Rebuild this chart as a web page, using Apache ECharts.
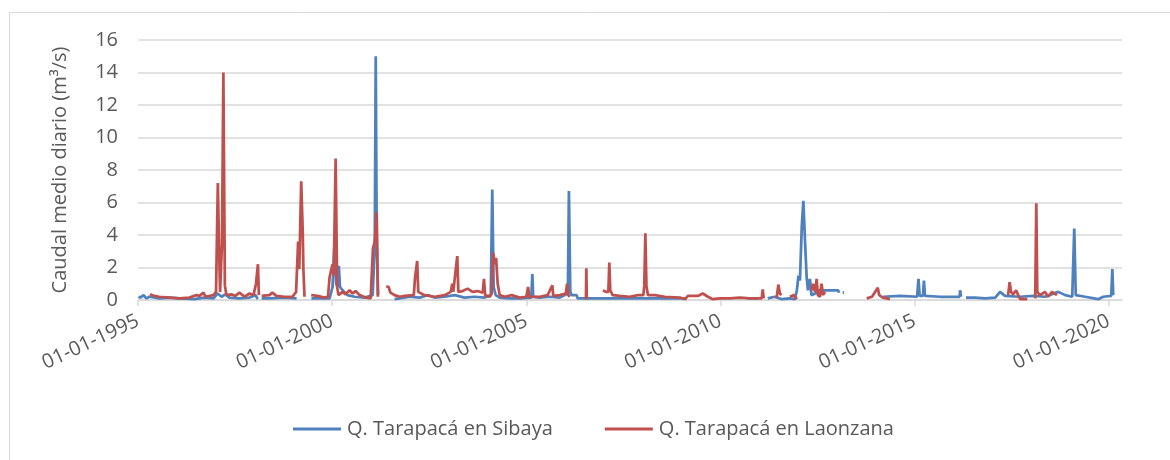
<!DOCTYPE html>
<html>
<head>
<meta charset="utf-8">
<script src="https://cdn.jsdelivr.net/npm/echarts@6.0.0/dist/echarts.min.js"></script>
<style>
html,body{margin:0;padding:0;background:#ffffff;}
#chart{width:1170px;height:460px;}
</style>
</head>
<body>
<div id="chart"></div>
<script>
const seriesNames = ['Q. Tarapacá en Sibaya', 'Q. Tarapacá en Laonzana'];
const yAxisTitle = 'Caudal medio diario (m³/s)';
const xTickDates = ['1995-01-01','2000-01-01','2005-01-01','2010-01-01','2015-01-01','2020-01-01'];
const xTickLabels = ['01-01-1995','01-01-2000','01-01-2005','01-01-2010','01-01-2015','01-01-2020'];
const xRange = ['1995-01-01', '2020-05-04'];
const yRange = [0, 16, 2];

// Q. Tarapacá en Sibaya (null = no data)
const sibayaDates = ['1995-01-05','1995-01-24','1995-02-22','1995-03-20','1995-04-18','1995-07-20','1995-10-23','1996-01-26','1996-06-15','1996-09-17','1996-12-11','1997-01-18','1997-02-25','1997-04-02','1997-05-10','1997-08-12','1997-11-15','1998-01-11','1998-01-30','1998-02-15','1998-03-09','1998-05-21','1998-10-10','1999-02-01','1999-04-01','1999-06-20','1999-09-23','1999-12-08','2000-01-05','2000-01-24','2000-02-08','2000-02-22','2000-03-04','2000-03-15','2000-04-08','2000-05-25','2000-07-30','2000-11-02','2001-01-16','2001-02-05','2001-02-14','2001-02-23','2001-03-08','2001-05-01','2001-08-10','2001-09-27','2001-12-30','2002-04-02','2002-06-17','2002-08-22','2002-11-25','2003-02-27','2003-05-30','2003-09-02','2003-12-06','2004-02-01','2004-02-15','2004-02-28','2004-03-18','2004-04-25','2004-07-28','2004-10-30','2005-02-16','2005-02-26','2005-03-06','2005-05-06','2005-08-09','2005-11-11','2006-01-26','2006-02-05','2006-02-18','2006-03-03','2006-04-19','2006-04-28','2006-11-22','2007-09-01','2008-06-09','2009-02-20','2009-06-01','2010-09-15','2010-12-18','2011-01-15','2011-03-21','2011-05-26','2011-08-01','2011-10-15','2011-12-01','2011-12-20','2012-01-04','2012-01-18','2012-02-04','2012-02-19','2012-03-05','2012-03-21','2012-04-02','2012-04-21','2012-05-05','2012-06-08','2012-07-24','2012-10-27','2013-01-11','2013-01-20','2013-02-05','2013-02-23','2013-03-07','2013-06-01','2014-03-11','2014-08-16','2015-01-24','2015-02-06','2015-02-17','2015-03-20','2015-03-29','2015-04-08','2015-08-27','2016-02-28','2016-03-03','2016-03-12','2016-04-01','2016-04-28','2016-07-22','2016-10-25','2017-01-28','2017-03-14','2017-04-30','2017-09-19','2018-01-20','2018-05-11','2018-09-12','2018-11-17','2019-01-22','2019-02-10','2019-02-24','2019-05-23','2019-09-23','2019-11-10','2020-01-24','2020-02-03','2020-02-12'];
const sibayaFlow = [0.2,0.15,0.3,0.1,0.2,0.1,0.15,0.1,0.05,0.15,0.1,0.4,0.2,0.35,0.15,0.1,0.15,0.3,0.05,null,0.1,0.1,0.15,0.1,null,0.1,0.1,0.1,0.8,3.7,1.0,0.8,2.1,0.8,0.6,0.3,0.2,0.15,0.3,3.3,15.0,4.0,0.3,null,0.05,0.1,0.2,0.15,0.3,0.15,0.2,0.3,0.15,0.2,0.15,0.3,6.8,0.8,0.3,0.15,0.1,0.1,0.15,1.6,0.2,0.15,0.2,0.15,0.4,6.7,0.5,0.3,0.3,0.1,0.1,0.1,0.1,0.1,null,0.1,0.1,null,0.1,0.2,0.05,0.1,0.05,0.6,1.5,1.2,4.5,6.1,3.7,1.4,0.6,1.3,0.3,0.4,0.6,0.6,0.6,0.45,null,0.45,0.45,null,0.2,0.25,0.2,1.3,0.25,0.25,1.2,0.25,0.2,0.2,0.6,0.2,null,0.15,0.15,0.1,0.15,0.5,0.25,0.2,0.25,0.2,0.5,0.3,0.2,4.4,0.3,0.2,0.05,0.2,0.25,1.9,0.3];

// Q. Tarapacá en Laonzana (null = no data)
const laonzanaDates = ['1995-04-24','1995-06-04','1995-07-20','1995-10-23','1996-01-26','1996-04-28','1996-07-03','1996-08-01','1996-09-08','1996-09-27','1996-12-11','1997-01-04','1997-01-21','1997-02-02','1997-02-11','1997-03-01','1997-03-14','1997-03-28','1997-04-12','1997-05-29','1997-07-05','1997-08-12','1997-09-29','1997-11-15','1997-12-22','1998-01-15','1998-02-02','1998-02-11','1998-02-25','1998-03-09','1998-05-21','1998-06-18','1998-07-26','1998-10-10','1998-12-24','1999-01-27','1999-02-15','1999-02-26','1999-03-16','1999-03-30','1999-04-06','1999-04-16','1999-05-15','1999-06-18','1999-08-16','1999-10-21','1999-11-23','1999-12-08','1999-12-21','2000-01-05','2000-01-16','2000-02-03','2000-02-17','2000-03-01','2000-04-08','2000-05-06','2000-06-13','2000-07-11','2000-08-09','2000-09-16','2000-11-11','2000-12-28','2001-01-19','2001-02-05','2001-02-23','2001-03-06','2001-04-15','2001-05-24','2001-06-15','2001-07-03','2001-08-10','2001-09-27','2001-11-13','2002-02-07','2002-02-19','2002-03-11','2002-03-21','2002-05-19','2002-08-22','2002-11-25','2003-01-20','2003-02-04','2003-02-13','2003-03-23','2003-04-02','2003-05-11','2003-06-28','2003-08-14','2003-10-01','2003-11-17','2003-11-29','2003-12-10','2004-01-22','2004-02-10','2004-02-24','2004-03-08','2004-03-22','2004-04-06','2004-04-25','2004-06-11','2004-08-16','2004-10-30','2005-01-01','2005-01-17','2005-01-28','2005-05-06','2005-07-20','2005-09-02','2005-09-11','2005-11-11','2006-01-07','2006-01-19','2006-01-30','2006-02-14','2006-04-15','2006-07-15','2006-07-19','2006-07-23','2006-10-01','2006-12-23','2007-01-18','2007-02-11','2007-02-20','2007-03-01','2007-03-23','2007-05-29','2007-09-01','2007-11-15','2008-01-06','2008-01-15','2008-01-25','2008-02-04','2008-02-18','2008-04-23','2008-07-26','2008-12-15','2009-02-01','2009-02-28','2009-06-02','2009-07-18','2009-09-04','2009-10-21','2009-12-26','2010-03-29','2010-07-01','2010-10-04','2011-01-23','2011-02-02','2011-02-11','2011-04-01','2011-06-12','2011-06-29','2011-07-13','2011-07-29','2011-09-01','2011-10-15','2011-11-22','2011-12-20','2012-03-01','2012-05-07','2012-05-19','2012-06-08','2012-06-23','2012-07-05','2012-07-24','2012-08-08','2012-08-22','2012-09-10','2013-03-01','2013-10-07','2013-11-26','2014-01-19','2014-02-01','2014-03-08','2014-05-13','2015-06-01','2017-05-29','2017-06-12','2017-06-26','2017-07-14','2017-08-12','2017-09-01','2017-09-19','2017-11-25','2018-01-01','2018-02-08','2018-02-18','2018-02-27','2018-03-25','2018-05-11','2018-06-09','2018-07-16','2018-08-31'];
const laonzanaFlow = [0.35,0.25,0.2,0.15,0.1,0.15,0.3,0.25,0.45,0.2,0.3,0.5,7.2,3.0,0.5,3.5,14.0,0.9,0.3,0.35,0.25,0.45,0.2,0.4,0.3,1.0,2.2,0.3,null,0.25,0.3,0.45,0.25,0.2,0.2,0.5,3.6,1.9,7.3,4.3,1.8,0.2,null,0.3,0.25,0.15,0.2,1.4,1.8,2.2,1.5,8.7,0.8,0.3,0.5,0.35,0.6,0.4,0.55,0.3,0.15,0.1,3.2,3.6,5.4,0.2,null,0.85,0.8,0.45,0.3,0.2,0.25,0.3,1.4,2.4,0.5,0.3,0.2,0.3,0.5,1.0,0.5,2.7,0.5,0.55,0.7,0.5,0.55,0.45,1.3,0.3,0.2,0.4,2.9,2.2,2.6,1.0,0.3,0.2,0.3,0.15,0.2,0.8,0.2,0.2,0.3,0.9,0.25,0.3,0.4,1.0,0.3,0.2,null,0.05,1.95,0.05,null,0.6,0.5,0.5,2.3,0.6,0.3,0.25,0.2,0.3,0.3,0.9,4.1,0.9,0.3,0.3,0.2,0.15,0.05,0.25,0.25,0.4,0.2,0.05,0.1,0.1,0.15,0.1,0.1,0.65,0.1,null,0.1,0.95,0.4,0.3,null,0.2,0.3,0.05,null,0.6,1.0,0.5,1.3,0.3,0.2,1.0,0.3,0.5,null,0.1,0.2,0.75,0.3,0.15,0.05,null,0.3,1.1,0.5,0.35,0.6,0.3,0.05,0.05,null,0.1,5.95,0.5,0.3,0.5,0.2,0.5,0.3];

const colors = ['#4F81BD', '#C0504D'];
const textColor = '#595959';
const gridColor = '#D9D9D9';
const fontFamily = '"Open Sans", "Noto Sans", sans-serif';

function toTs(d) { const p = d.split('-'); return Date.UTC(+p[0], +p[1] - 1, +p[2]); }
const tickTs = xTickDates.map(toTs);
const sibayaData = sibayaDates.map((d, i) => [toTs(d), sibayaFlow[i]]);
const laonzanaData = laonzanaDates.map((d, i) => [toTs(d), laonzanaFlow[i]]);

const chart = echarts.init(document.getElementById('chart'), null, { renderer: 'canvas' });
chart.setOption({
  animation: false,
  backgroundColor: '#ffffff',
  textStyle: { fontFamily: fontFamily, color: textColor },
  graphic: [{
    type: 'rect', left: 7, top: 10, shape: { x: 0, y: 0, width: 1300, height: 600 },
    style: { fill: 'none', stroke: gridColor, lineWidth: 1 }, silent: true
  }],
  grid: { left: 138, right: 48, top: 40, bottom: 160, containLabel: false },
  legend: {
    left: 288, top: 414, icon: 'rect', itemWidth: 48, itemHeight: 3, itemGap: 52,
    textStyle: { fontSize: 20, color: textColor, fontFamily: fontFamily, padding: [0, 0, 0, 1] },
    data: seriesNames
  },
  xAxis: {
    type: 'value',
    min: toTs(xRange[0]), max: toTs(xRange[1]),
    axisLine: { lineStyle: { color: gridColor, width: 1.5 } },
    axisTick: { show: true, customValues: tickTs, length: 6, lineStyle: { color: gridColor, width: 1.5 } },
    axisLabel: {
      customValues: tickTs, rotate: 25, margin: 20, fontSize: 20, color: textColor, fontFamily: fontFamily,
      formatter: function (v) { const i = tickTs.indexOf(v); return i >= 0 ? xTickLabels[i] : ''; }
    },
    splitLine: { show: false }
  },
  yAxis: {
    type: 'value', min: yRange[0], max: yRange[1], interval: yRange[2],
    name: yAxisTitle, nameLocation: 'middle', nameGap: 68,
    nameTextStyle: { fontSize: 20, color: textColor, fontFamily: fontFamily },
    axisLine: { show: false }, axisTick: { show: false },
    axisLabel: { fontSize: 20, color: textColor, margin: 20, fontFamily: fontFamily },
    splitLine: { lineStyle: { color: gridColor, width: 1.5 } }
  },
  series: [
    { name: seriesNames[0], type: 'line', data: sibayaData, symbol: 'none', connectNulls: false,
      lineStyle: { color: colors[0], width: 2.75 }, itemStyle: { color: colors[0] } },
    { name: seriesNames[1], type: 'line', data: laonzanaData, symbol: 'none', connectNulls: false,
      lineStyle: { color: colors[1], width: 2.75 }, itemStyle: { color: colors[1] } }
  ]
});
</script>
</body>
</html>
